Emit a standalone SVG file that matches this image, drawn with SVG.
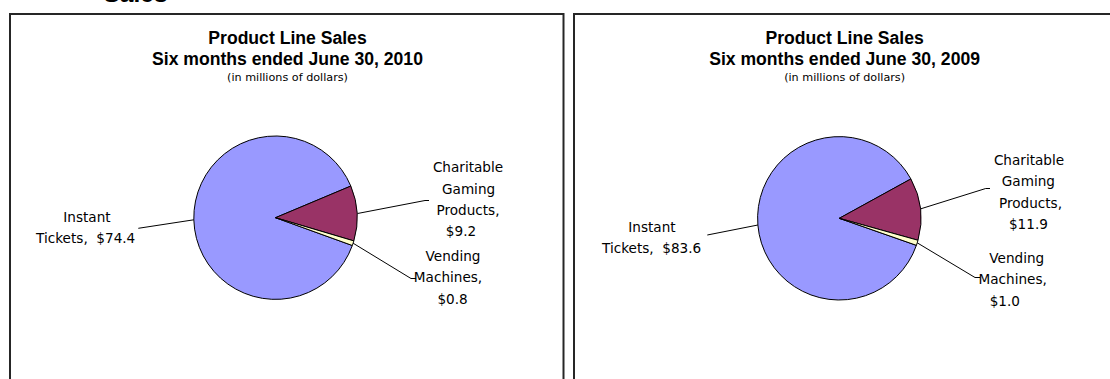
<svg xmlns="http://www.w3.org/2000/svg" width="1110" height="379" viewBox="0 0 1110 379">
  <style>
    .frame { fill: #ffffff; stroke: #262626; stroke-width: 2; }
    .title { font-family: "Liberation Sans", Arial, sans-serif; font-weight: bold; font-size: 17.6px; fill: #000; text-anchor: middle; }
    .sub { font-family: "DejaVu Sans", Verdana, sans-serif; font-size: 11.2px; fill: #000; text-anchor: middle; }
    .lbl { font-family: "DejaVu Sans", Verdana, sans-serif; font-size: 13.6px; fill: #000; text-anchor: middle; }
    .slice { stroke: #000; stroke-width: 1; stroke-linejoin: round; }
    .inst { fill: #9999ff; }
    .char { fill: #993366; }
    .vend { fill: #ffffcc; }
    .lead { fill: none; stroke: #000; stroke-width: 1; }
    .head { font-family: "Liberation Sans", Arial, sans-serif; font-weight: bold; font-size: 24.5px; fill: #000; }
  </style>

  <rect width="1110" height="379" fill="#ffffff"/>

  <!-- section heading, mostly above the visible area -->
  <text class="head" x="103.5" y="2">Sales</text>

  <!-- 2010 chart -->
  <g id="chart-2010">
    <rect class="frame" x="10" y="14" width="553.5" height="420"/>
    <g id="title-2010">
      <text class="title" x="287.5" y="44">Product Line Sales</text>
      <text class="title" x="287.5" y="64.5">Six months ended June 30, 2010</text>
      <text class="sub" x="287.5" y="80.5">(in millions of dollars)</text>
    </g>
    <g id="slice-2010-instant">
      <path class="slice inst" d="M275.5 217.7 L352.32 245.51 A81.7 81.7 0 1 1 350.82 186.04 Z"/>
    </g>
    <g id="slice-2010-charitable">
      <path class="slice char" d="M275.5 217.7 L350.82 186.04 A81.7 81.7 0 0 1 353.83 240.90 Z"/>
    </g>
    <g id="slice-2010-vending">
      <path class="slice vend" d="M275.5 217.7 L353.83 240.90 A81.7 81.7 0 0 1 352.32 245.51 Z"/>
    </g>
    <g id="labels-2010">
      <text class="lbl" x="87" y="221.5">Instant</text>
      <text class="lbl" x="85.7" y="243" xml:space="preserve">Tickets,  $74.4</text>
      <text class="lbl" x="468" y="172">Charitable</text>
      <text class="lbl" x="468.6" y="193.5">Gaming</text>
      <text class="lbl" x="468" y="215">Products,</text>
      <text class="lbl" x="461" y="236">$9.2</text>
      <text class="lbl" x="453" y="260.5">Vending</text>
      <text class="lbl" x="448" y="282">Machines,</text>
      <text class="lbl" x="452.6" y="303.5">$0.8</text>
    </g>
  </g>

  <!-- 2009 chart -->
  <g id="chart-2009">
    <rect class="frame" x="574" y="14" width="560" height="420"/>
    <g id="title-2009">
      <text class="title" x="844.6" y="44">Product Line Sales</text>
      <text class="title" x="844.6" y="64.5">Six months ended June 30, 2009</text>
      <text class="sub" x="844.6" y="80.5">(in millions of dollars)</text>
    </g>
    <g id="slice-2009-instant">
      <path class="slice inst" d="M839.3 218.3 L916.40 245.33 A81.7 81.7 0 1 1 910.89 178.94 Z"/>
    </g>
    <g id="slice-2009-charitable">
      <path class="slice char" d="M839.3 218.3 L910.89 178.94 A81.7 81.7 0 0 1 917.99 240.25 Z"/>
    </g>
    <g id="slice-2009-vending">
      <path class="slice vend" d="M839.3 218.3 L917.99 240.25 A81.7 81.7 0 0 1 916.40 245.33 Z"/>
    </g>
    <g id="labels-2009">
      <text class="lbl" x="652" y="231.5">Instant</text>
      <text class="lbl" x="651.6" y="253" xml:space="preserve">Tickets,  $83.6</text>
      <text class="lbl" x="1029" y="164.5">Charitable</text>
      <text class="lbl" x="1028.4" y="186">Gaming</text>
      <text class="lbl" x="1030.5" y="207.5">Products,</text>
      <text class="lbl" x="1028.4" y="229">$11.9</text>
      <text class="lbl" x="1016.8" y="262.5">Vending</text>
      <text class="lbl" x="1012.7" y="284">Machines,</text>
      <text class="lbl" x="1004.8" y="305.5">$1.0</text>
    </g>
  </g>

  <!-- leader lines from slices to their labels -->
  <g id="connectors">
    <polyline class="lead" points="193.8,219.8 138.3,228.3"/>
    <polyline class="lead" points="357.5,213.5 425,200.5 429,200.5"/>
    <polyline class="lead" points="353.1,243.2 411,278.5 416,278.5"/>
    <polyline class="lead" points="757.9,225 707.3,235"/>
    <polyline class="lead" points="920.5,208.9 985.7,188.5 990,188.5"/>
    <polyline class="lead" points="917.2,242.8 975,277.5 980,277.5"/>
  </g>
</svg>
